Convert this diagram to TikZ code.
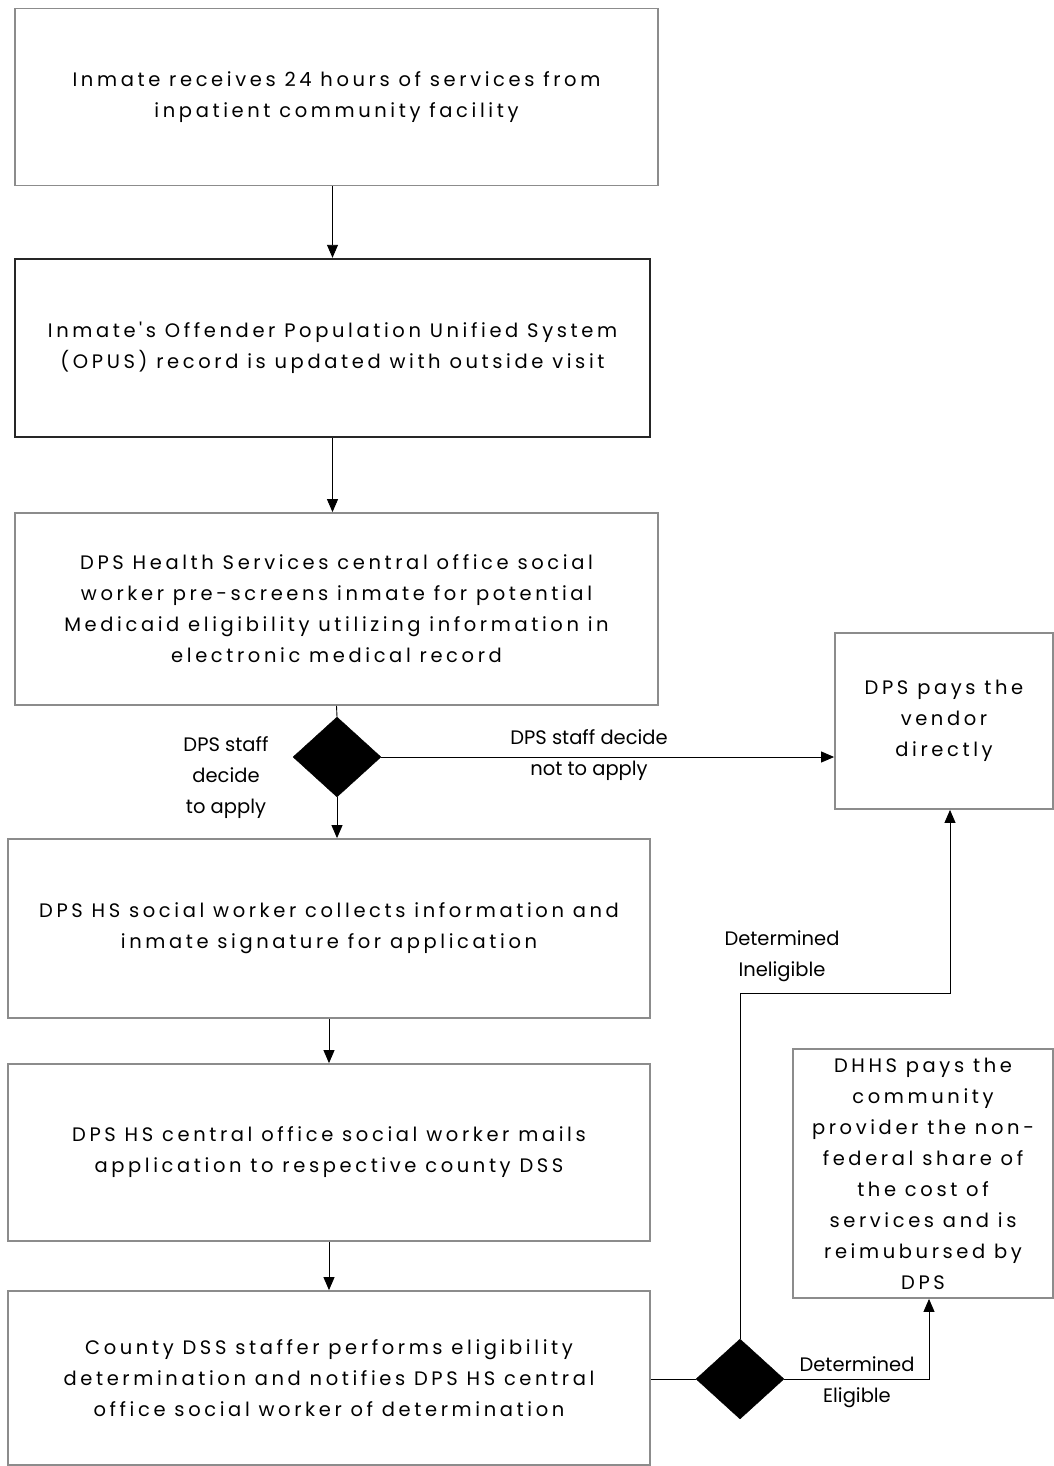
\documentclass[tikz,border=0pt]{standalone}
\usepackage{fontspec}
\setmainfont{Poppins}
\newfontfamily\boxfont{Poppins}[LetterSpace=18.5]
\newfontfamily\labfont{Poppins}
\usetikzlibrary{shapes.geometric,arrows.meta}
\begin{document}
\begin{tikzpicture}[x=1pt,y=-1pt,
  stepbox/.style={draw=black!45,line width=1.8pt,fill=white,align=center,
    font=\boxfont\fontsize{19.5}{31}\selectfont,inner sep=0pt},
  darkbox/.style={stepbox,draw=black!85,line width=2.4pt},
  decision/.style={diamond,fill=black,draw=black,inner sep=0pt,
    minimum width=88pt,minimum height=80pt},
  flow/.style={line width=0.9pt,-{Triangle[width=11pt,length=13pt]}},
  plain/.style={line width=0.9pt},
  lab/.style={align=center,font=\labfont\fontsize{19.5}{31}\selectfont,inner sep=0pt}]
\useasboundingbox (0,0) rectangle (1054,1466);
\fill[white] (0,0) rectangle (1054,1466);

\node[stepbox,minimum width=643pt,minimum height=177pt] (b1) at (336.5,97)
  {Inmate receives 24 hours of services from\\inpatient community facility};
\node[darkbox,minimum width=635pt,minimum height=178pt] (b2) at (332.5,348)
  {Inmate's Offender Population Unified System\\(OPUS) record is updated with outside visit};
\node[stepbox,minimum width=643pt,minimum height=192pt] (b3) at (336.5,609)
  {DPS Health Services central office social\\worker pre-screens inmate for potential\\Medicaid eligibility utilizing information in\\electronic medical record};
\node[decision] (d1) at (337,757) {};
\node[stepbox,minimum width=218pt,minimum height=176pt] (vendor) at (944,721)
  {DPS pays the\\vendor\\directly};
\node[stepbox,minimum width=642pt,minimum height=179pt] (b4) at (329,928.5)
  {DPS HS social worker collects information and\\inmate signature for application};
\node[stepbox,minimum width=642pt,minimum height=177pt] (b5) at (329,1152.5)
  {DPS HS central office social worker mails\\application to respective county DSS};
\node[stepbox,minimum width=642pt,minimum height=174pt] (b6) at (329,1378)
  {County DSS staffer performs eligibility\\determination and notifies DPS HS central\\office social worker of determination};
\node[decision] (d2) at (740,1379) {};
\node[stepbox,minimum width=260pt,minimum height=249pt] (dhhs) at (923,1173.5)
  {DHHS pays the\\community\\provider the non-\\federal share of\\the cost of\\services and is\\reimubursed by\\DPS};

\draw[flow] (b1.south -| b2.north) -- (b2.north);
\draw[flow] (b2.south) -- (b2.south |- b3.north);
\draw[plain] (b3.south) -- (d1.north);
\draw[flow] (d1.south) -- (d1.south |- b4.north);
\draw[flow] (d1.east) -- (d1.east -| vendor.west);
\draw[flow] (b4.south) -- (b5.north);
\draw[flow] (b5.south) -- (b6.north);
\draw[plain] (b6.east |- d2.west) -- (d2.west);
\coordinate (turnIn) at (950,993);
\draw[flow] (d2.north) |- (turnIn) -- (turnIn |- vendor.south);
\coordinate (turnEl) at (929,1379);
\draw[flow] (d2.east) -- (turnEl) -- (turnEl |- dhhs.south);

\node[lab] (l1) at (589,755) {DPS staff decide\\not to apply};
\node[lab] (l2) at (226,778) {DPS staff\\decide\\to apply};
\node[lab] (l3) at (782,956) {Determined\\Ineligible};
\node[lab] (l4) at (857,1382) {Determined\\Eligible};
\end{tikzpicture}
\end{document}
